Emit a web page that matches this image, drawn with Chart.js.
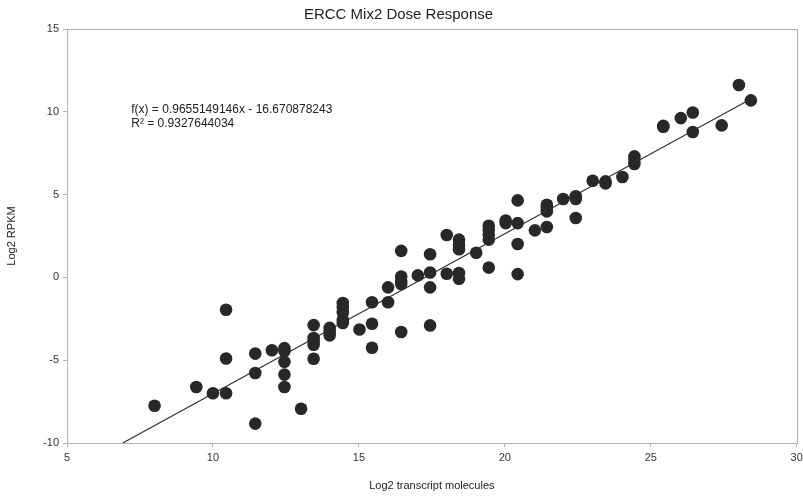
<!DOCTYPE html>
<html>
<head>
<meta charset="utf-8">
<script src="https://cdn.jsdelivr.net/npm/chart.js@4"></script>
<style>
  html, body { margin: 0; padding: 0; background: #fff; }
  #wrap { width: 803px; height: 497px; position: relative; }
</style>
</head>
<body>
<div id="wrap"><canvas id="grafico"></canvas></div>
<script>
// log2 transcript molecules (x) and log2 RPKM (y)
const molecole = [
  8.0, 9.43, 10.0,
  10.45, 10.45, 10.45,
  11.45, 11.45, 11.45,
  12.02,
  12.45, 12.45, 12.45, 12.45, 12.45,
  13.02,
  13.45, 13.45, 13.45, 13.45, 13.45,
  14.0, 14.0, 14.0,
  14.45, 14.45, 14.45, 14.45, 14.45,
  15.02,
  15.45, 15.45, 15.45,
  16.0, 16.0,
  16.45, 16.45, 16.45, 16.45, 16.45,
  17.02,
  17.44, 17.44, 17.44, 17.44,
  18.01, 18.01,
  18.43, 18.43, 18.43, 18.43, 18.43,
  19.02,
  19.45, 19.45, 19.45, 19.45, 19.45,
  20.03, 20.03,
  20.44, 20.44, 20.44, 20.44,
  21.03,
  21.44, 21.44, 21.44, 21.44,
  22.0,
  22.43, 22.43, 22.43,
  23.01,
  23.45, 23.45,
  24.03,
  24.44, 24.44, 24.44,
  25.43, 25.43,
  26.03,
  26.44, 26.44,
  27.43,
  28.02,
  28.43
];
const rpkm = [
  -7.75, -6.62, -7.0,
  -1.95, -4.9, -7.0,
  -4.6, -5.77, -8.83,
  -4.4,
  -4.27, -4.45, -5.1, -5.87, -6.62,
  -7.93,
  -2.88, -3.66, -3.85, -4.07, -4.91,
  -3.05, -3.3, -3.5,
  -1.55, -1.8, -2.1, -2.55, -2.75,
  -3.15,
  -1.5, -2.8, -4.25,
  -0.6, -1.5,
  1.6, 0.05, -0.2, -0.4, -3.3,
  0.12,
  1.4, 0.3, -0.6, -2.9,
  2.56, 0.22,
  2.28, 1.97, 1.7, 0.27, -0.08,
  1.49,
  3.12, 2.88, 2.58, 2.28, 0.59,
  3.44, 3.28,
  4.65, 3.28, 2.02, 0.2,
  2.84,
  4.39, 4.19, 3.99, 3.04,
  4.73,
  4.9, 4.73, 3.59,
  5.84,
  5.8, 5.68,
  6.06,
  7.31, 7.11, 6.85,
  9.15, 9.1,
  9.62,
  9.96, 8.78,
  9.18,
  11.62,
  10.69
];

// trend line as printed on the chart
const pendenza = 0.9655149146, intercetta = -16.670878243;
const trendX = [6.909, 28.43];
const testoEq = ["f(x) = 0.9655149146x - 16.670878243", "R\u00b2 = 0.9327644034"];
const posEq = { x: 7.2, y: 10.15 };

const xTicks = [5, 10, 15, 20, 25, 30];
const yTicks = [-10, -5, 0, 5, 10, 15];

const FONT = "'Liberation Sans', Arial, sans-serif";
const GRIGIO = '#b3b3b3';

const cornice = {
  id: 'cornice',
  afterDraw(chart) {
    const a = chart.chartArea, ctx = chart.ctx;
    ctx.save();
    ctx.strokeStyle = GRIGIO;
    ctx.lineWidth = 1;
    ctx.strokeRect(Math.round(a.left) + 0.5, Math.round(a.top) + 0.5, Math.round(a.right - a.left), Math.round(a.bottom - a.top));
    const px = chart.scales.x.getPixelForValue(posEq.x);
    const py = chart.scales.y.getPixelForValue(posEq.y);
    ctx.fillStyle = '#222';
    ctx.font = '12px ' + FONT;
    ctx.textAlign = 'left';
    ctx.textBaseline = 'middle';
    testoEq.forEach((t, i) => ctx.fillText(t, px, py + i * 14));
    ctx.restore();
  }
};

const punti = molecole.map((x, i) => ({ x: x, y: rpkm[i] }));
const linea = trendX.map(x => ({ x: x, y: pendenza * x + intercetta }));

new Chart(document.getElementById('grafico'), {
  type: 'scatter',
  data: {
    datasets: [
      { data: punti, backgroundColor: '#282828', borderColor: '#282828', pointRadius: 6.3, pointHoverRadius: 6.3, borderWidth: 0 },
      { data: linea, showLine: true, borderColor: '#333', borderWidth: 1.2, pointRadius: 0, fill: false }
    ]
  },
  options: {
    responsive: true, maintainAspectRatio: false, animation: false,
    layout: { padding: { left: 0, right: 6, top: 0, bottom: 0 } },
    plugins: {
      legend: { display: false },
      tooltip: { enabled: false },
      title: { display: true, text: 'ERCC Mix2 Dose Response', color: '#222', font: { family: FONT, size: 15, weight: 'normal' }, padding: { top: 6, bottom: 5 } }
    },
    scales: {
      x: {
        type: 'linear', min: 5, max: 30,
        afterBuildTicks: s => { s.ticks = xTicks.map(v => ({ value: v })); },
        afterFit: s => { s.height = 54; s.paddingLeft = 0; s.paddingRight = 0; },
        grid: { drawOnChartArea: false, drawTicks: true, tickLength: 4, color: GRIGIO },
        border: { color: GRIGIO },
        ticks: { color: '#333', font: { family: FONT, size: 11 }, padding: 4, maxRotation: 0 },
        title: { display: true, text: 'Log2 transcript molecules', color: '#222', font: { family: FONT, size: 11 }, padding: { top: 0, bottom: 4 } }
      },
      y: {
        type: 'linear', min: -10, max: 15,
        afterBuildTicks: s => { s.ticks = yTicks.map(v => ({ value: v })); },
        afterFit: s => { s.width = 67; },
        grid: { drawOnChartArea: false, drawTicks: true, tickLength: 4, color: GRIGIO },
        border: { color: GRIGIO },
        ticks: { color: '#333', font: { family: FONT, size: 11 }, padding: 4 },
        title: { display: true, text: 'Log2 RPKM', color: '#222', font: { family: FONT, size: 11 }, padding: { top: 5, bottom: 0 } }
      }
    }
  },
  plugins: [cornice]
});
</script>
</body>
</html>
